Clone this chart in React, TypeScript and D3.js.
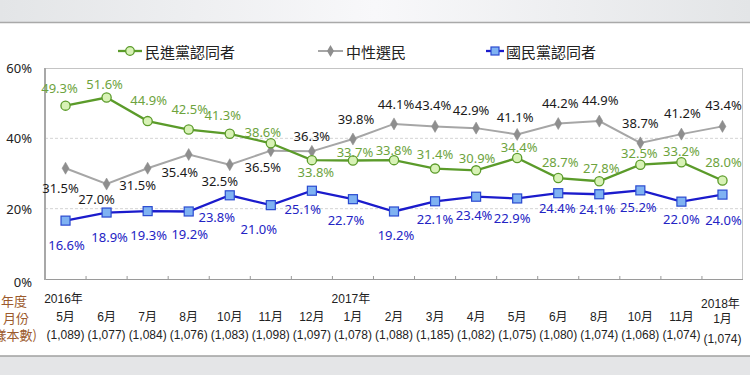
import React from "react";
import * as d3 from "d3";

const months = ["5月", "6月", "7月", "8月", "10月", "11月", "12月", "1月", "2月", "3月", "4月", "5月", "6月", "8月", "10月", "11月", "1月"];
const years = ["2016年", "", "", "", "", "", "", "2017年", "", "", "", "", "", "", "", "", "2018年"];
const samples = ["(1,089)", "(1,077)", "(1,084)", "(1,076)", "(1,083)", "(1,098)", "(1,097)", "(1,078)", "(1,088)", "(1,185)", "(1,082)", "(1,075)", "(1,080)", "(1,074)", "(1,068)", "(1,074)", "(1,074)"];

const dppValues = [49.3, 51.6, 44.9, 42.5, 41.3, 38.6, 33.8, 33.7, 33.8, 31.4, 30.9, 34.4, 28.7, 27.8, 32.5, 33.2, 28.0];
const neutralValues = [31.5, 27.0, 31.5, 35.4, 32.5, 36.5, 36.3, 39.8, 44.1, 43.4, 42.9, 41.1, 44.2, 44.9, 38.7, 41.2, 43.4];
const kmtValues = [16.6, 18.9, 19.3, 19.2, 23.8, 21.0, 25.1, 22.7, 19.2, 22.1, 23.4, 22.9, 24.4, 24.1, 25.2, 22.0, 24.0];

const yTicks = [0, 20, 40, 60];
const seriesNames = ["民進黨認同者", "中性選民", "國民黨認同者"];

// label placement offsets (pixels from the point to label centre)
const dppDx = [-6, -2, 1, 1, -7, -8, 4, 2, 0, 0, 1, 2, 2, 2, -1, 0, 1];
const dppDy = [-18, -14, -21, -21, -19, -11, 12, -8, -10, -15, -12, -11, -16, -13, -12, -11, -19];
const neuDx = [-5, -10, -10, -9, -10, -8, 0, 3, 2, -2, -5, -2, 2, 1, 0, 1, 1];
const neuDy = [20, 15, 17, 17, 16, 16, -15, -20, -20, -21, -18, -17, -21, -21, -20, -21, -21];
const kmtDx = [1, 3, 1, 1, -13, -12, -9, -7, 2, 0, -2, -5, -1, -2, -2, 0, 1];
const kmtDy = [24, 24, 24, 23, 22, 24, 18, 21, 24, 18, 18, 20, 15, 15, 17, 17, 25];

const W = 750;
const H = 375;
const LEFT = 45;
const RIGHT = 743;
const TOP = 68;
const BOTTOM = 279;

const GREEN = "#5b9b2a";
const GREEN_LABEL = "#6da33d";
const GREEN_FILL = "#d8f2b6";
const GRAY = "#a6a6a6";
const GRAY_MARK = "#8e8e8e";
const BLUE = "#1b1bcc";
const BLUE_LABEL = "#2323c4";
const BLUE_FILL = "#7fb2f2";
const LABEL_FONT = "'Noto Sans', 'Noto Sans CJK TC', sans-serif";
const AXIS_FONT = "'Liberation Sans', Arial, 'Noto Sans CJK TC', sans-serif";

export default function App() {
  const idx = months.map((_, i) => i);
  const x = d3.scaleBand<number>().domain(idx).range([LEFT, RIGHT]);
  const y = d3.scaleLinear().domain([0, 60]).range([BOTTOM, TOP]);
  const cx = (i: number) => (x(i) as number) + x.bandwidth() / 2;
  const line = d3
    .line<number>()
    .x((_, i) => cx(i))
    .y((d) => y(d));

  const diamond = d3.symbol().type(d3.symbolDiamond).size(42)() as string;

  const boundaries = idx.slice(1).map((i) => x(i) as number);

  return (
    <svg width={W} height={H} style={{ position: "absolute", left: 0, top: 0, display: "block" }}>
      <defs>
        <linearGradient id="topg" x1="0" x2="1" y1="0" y2="0">
          <stop offset="0" stopColor="#e3e5e7" />
          <stop offset="0.5" stopColor="#f8f8fa" />
          <stop offset="1" stopColor="#e3e5e7" />
        </linearGradient>
      </defs>
      <rect x={0} y={0} width={W} height={H} fill="#ffffff" />
      <rect x={0} y={0} width={W} height={22} fill="url(#topg)" />
      <line x1={0} x2={W} y1={22.5} y2={22.5} stroke="#a9a9a9" strokeWidth={1.5} />
      <rect x={0} y={356} width={W} height={H - 356} fill="#e4e5e7" />
      <line x1={0} x2={W} y1={356} y2={356} stroke="#a0a0a0" strokeWidth={1.5} />

      {/* grid */}
      {yTicks
        .filter((t) => t > 0 && t < 60)
        .map((t) => (
          <line key={t} x1={LEFT} x2={RIGHT} y1={y(t)} y2={y(t)} stroke="#d4d4d4" strokeDasharray="3,2" strokeWidth={1} />
        ))}
      {/* plot border */}
      <line x1={LEFT} x2={RIGHT} y1={TOP + 0.5} y2={TOP + 0.5} stroke="#c4c4c4" />
      <line x1={RIGHT - 0.5} x2={RIGHT - 0.5} y1={TOP} y2={BOTTOM} stroke="#c4c4c4" />
      <line x1={LEFT} x2={RIGHT} y1={BOTTOM + 0.5} y2={BOTTOM + 0.5} stroke="#9a9a9a" />
      <line x1={LEFT} x2={LEFT} y1={TOP} y2={BOTTOM + 1} stroke="#a8a8a8" strokeWidth={2} />
      {boundaries.map((b, i) => (
        <line key={i} x1={b} x2={b} y1={BOTTOM} y2={BOTTOM - 3} stroke="#9a9a9a" />
      ))}

      {/* y tick labels */}
      {yTicks.map((t) => (
        <text key={t} x={32} y={y(t) + (t === 0 ? 3 : 0)} textAnchor="end" dominantBaseline="central" fontFamily={LABEL_FONT} fontSize={13} fill="#222">
          {t}%
        </text>
      ))}

      {/* x labels */}
      {idx.map((i) => {
        const shift = i === idx.length - 1 ? 3 : 0;
        return (
          <g key={i} fontFamily={AXIS_FONT} fontSize={12} fill="#222" textAnchor="middle">
            {years[i] && (
              <text x={cx(i) - 2} y={299 + shift * 1.6} dominantBaseline="central">
                {years[i]}
              </text>
            )}
            <text x={cx(i)} y={317 + shift * 0.7} dominantBaseline="central">
              {months[i]}
            </text>
            <text x={cx(i)} y={335 + shift * 1.3} dominantBaseline="central">
              {samples[i]}
            </text>
          </g>
        );
      })}
      <g fontFamily="'Noto Sans CJK TC', sans-serif" fontSize={13} fill="#9c5a2c" dominantBaseline="central">
        <text x={14} y={300} textAnchor="middle">年度</text>
        <text x={16} y={317} textAnchor="middle">月份</text>
        <text x={37} y={334} textAnchor="end">(樣本數)</text>
      </g>

      {/* lines */}
      <path d={line(neutralValues) as string} fill="none" stroke={GRAY} strokeWidth={2} />
      <path d={line(dppValues) as string} fill="none" stroke={GREEN} strokeWidth={2.3} />
      <path d={line(kmtValues) as string} fill="none" stroke={BLUE} strokeWidth={2.3} />

      {/* markers */}
      {neutralValues.map((v, i) => (
        <path key={"n" + i} d={diamond} transform={`translate(${cx(i)},${y(v)})`} fill={GRAY_MARK} stroke="#8a8a8a" strokeWidth={0.5} />
      ))}
      {dppValues.map((v, i) => (
        <circle key={"d" + i} cx={cx(i)} cy={y(v)} r={4.6} fill={GREEN_FILL} stroke={GREEN} strokeWidth={1.3} />
      ))}
      {kmtValues.map((v, i) => (
        <rect key={"k" + i} x={cx(i) - 4.5} y={y(v) - 4.5} width={9} height={9} fill={BLUE_FILL} stroke="#2a4ad0" strokeWidth={1.2} />
      ))}

      {/* data labels */}
      <g fontFamily={LABEL_FONT} fontSize={13} textAnchor="middle" dominantBaseline="central">
        {dppValues.map((v, i) => (
          <text key={"dl" + i} x={cx(i) + dppDx[i]} y={y(v) + dppDy[i]} fill={GREEN_LABEL}>
            {v.toFixed(1)}%
          </text>
        ))}
        {neutralValues.map((v, i) => (
          <text key={"nl" + i} x={cx(i) + neuDx[i]} y={y(v) + neuDy[i]} fill="#1a1a1a">
            {v.toFixed(1)}%
          </text>
        ))}
        {kmtValues.map((v, i) => (
          <text key={"kl" + i} x={cx(i) + kmtDx[i]} y={y(v) + kmtDy[i]} fill={BLUE_LABEL}>
            {v.toFixed(1)}%
          </text>
        ))}
      </g>

      {/* legend */}
      <g fontFamily="'Noto Sans CJK TC', sans-serif" fontSize={15} fill="#222" dominantBaseline="central">
        <line x1={118} x2={142} y1={51} y2={51} stroke={GREEN} strokeWidth={2.3} />
        <circle cx={130} cy={51} r={4.3} fill={GREEN_FILL} stroke={GREEN} strokeWidth={1.3} />
        <text x={145} y={51}>{seriesNames[0]}</text>
        <line x1={318} x2={343} y1={51} y2={51} stroke={GRAY} strokeWidth={2} />
        <path d={diamond} transform="translate(330.5,51)" fill={GRAY_MARK} />
        <text x={346} y={51}>{seriesNames[1]}</text>
        <line x1={486} x2={504} y1={51} y2={51} stroke={BLUE} strokeWidth={2.3} />
        <rect x={491} y={47} width={8} height={8} fill={BLUE_FILL} stroke="#2a4ad0" strokeWidth={1.2} />
        <text x={506} y={51}>{seriesNames[2]}</text>
      </g>
    </svg>
  );
}
